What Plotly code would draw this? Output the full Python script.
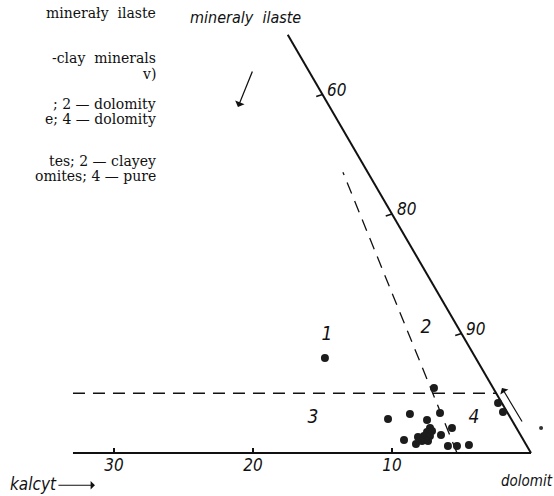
import plotly.graph_objects as go

# ---------------- data (calcite %, clay %) ; dolomite = 100 - calcite - clay
sample_calcite = [10.85, 4.26, 8.86, 7.08, 4.87, 6.10, 8.59, 7.90, 7.46, 5.72, 4.64,
                  5.68, 5.03, 4.13, 0.28, 0.30, 6.22, 6.60, 6.99, 6.56, 7.34, 6.91, 6.20]
sample_clay = [7.95, 5.44, 2.85, 3.26, 3.35, 2.76, 1.09, 0.75, 1.34, 1.51, 2.09,
               0.59, 0.59, 0.67, 4.18, 3.43, 2.09, 1.76, 1.42, 1.42, 1.00, 1.00, 1.84]

# small stray mark outside the triangle (as printed)
stray_calcite = [-1.77]
stray_clay = [2.09]

# triangle edges shown in the fragment
bottom_edge_calcite = [32.95, 0]
bottom_edge_clay = [0, 0]
right_edge_calcite = [0, 0]
right_edge_clay = [0, 35]

# classification boundaries (dashed)
hline_calcite = [30.45, 0]
hline_clay = [5, 5]
slant_calcite = [5.32, 1.78]
slant_clay = [0, 23.5]

# axis ticks
calcite_ticks = [10, 20, 30]
dolomite_ticks = [90, 80, 70]
dolomite_ticktext = ["90", "80", "60"]

# field numbers
field_labels = ["1", "2", "3", "4"]
field_calcite = [9.74, 2.32, 14.22, 2.64]
field_clay = [9.87, 10.46, 2.93, 2.93]


def xe(calc, clay):
    return [c + a / 2 for c, a in zip(calc, clay)]


W, H = 554, 496
XR = [38.20, -1.655]
YR = [-3.598, 37.91]

fig = go.Figure()
black = "#111111"
narrow = "Liberation Sans Narrow, DejaVu Sans Condensed, Roboto Condensed, DejaVu Sans"

fig.add_trace(go.Scatter(x=xe(bottom_edge_calcite, bottom_edge_clay), y=bottom_edge_clay,
                         mode="lines", line=dict(color=black, width=2), hoverinfo="skip"))
fig.add_trace(go.Scatter(x=xe(right_edge_calcite, right_edge_clay), y=right_edge_clay,
                         mode="lines", line=dict(color=black, width=2), hoverinfo="skip"))
fig.add_trace(go.Scatter(x=xe(hline_calcite, hline_clay), y=hline_clay,
                         mode="lines", line=dict(color=black, width=1.3, dash="12px,8px"),
                         hoverinfo="skip"))
fig.add_trace(go.Scatter(x=xe(slant_calcite, slant_clay), y=slant_clay,
                         mode="lines", line=dict(color=black, width=1.3, dash="12px,8px"),
                         hoverinfo="skip"))

# right edge tick marks
tx, ty = [], []
for d in dolomite_ticks:
    a = 100 - d
    x0 = a / 2
    tx += [x0, x0 + 0.45, None]
    ty += [a, a - 0.17, None]
fig.add_trace(go.Scatter(x=tx, y=ty, mode="lines", line=dict(color=black, width=1.5),
                         hoverinfo="skip"))

fig.add_trace(go.Scatter(x=xe(sample_calcite, sample_clay), y=sample_clay, mode="markers",
                         marker=dict(size=8, color="#1c1c1c"), hoverinfo="skip"))
fig.add_trace(go.Scatter(x=xe(stray_calcite, stray_clay), y=stray_clay, mode="markers",
                         marker=dict(size=4, color="#333333"), hoverinfo="skip"))

fig.add_trace(go.Scatter(x=xe(field_calcite, field_clay), y=field_clay, mode="text",
                         text=field_labels,
                         textfont=dict(family=narrow, size=19, style="italic", color=black),
                         hoverinfo="skip"))

ital = dict(family=narrow, style="italic", color=black)
ann = []
for d, t in zip(dolomite_ticks, dolomite_ticktext):
    a = 100 - d
    ann.append(dict(x=a / 2, y=a, xref="x", yref="y", text=t, showarrow=False,
                    xanchor="left", yanchor="middle", xshift=3, yshift=5,
                    font=dict(size=17, **ital)))

serif = dict(family="DejaVu Serif, Liberation Serif", size=14, color=black)
text_lines = [("minerały  ilaste", 13), ("-clay  minerals", 58), ("v)", 74),
              ("; 2 — dolomity", 104), ("e; 4 — dolomity", 119),
              ("tes; 2 — clayey", 161), ("omites; 4 — pure", 176)]
for t, py in text_lines:
    ann.append(dict(x=158 / W, y=1 - py / H, xref="paper", yref="paper", text=t,
                    showarrow=False, xanchor="right", yanchor="middle", font=serif))

ann.append(dict(x=188 / W, y=1 - 18 / H, xref="paper", yref="paper", text="mineraly  ilaste",
                showarrow=False, xanchor="left", yanchor="middle", font=dict(size=16, **ital)))
ann.append(dict(x=8 / W, y=1 - 484 / H, xref="paper", yref="paper", text="kalcyt",
                showarrow=False, xanchor="left", yanchor="middle", font=dict(size=17, **ital)))
ann.append(dict(x=499 / W, y=1 - 481 / H, xref="paper", yref="paper", text="dolomit",
                showarrow=False, xanchor="left", yanchor="middle", font=dict(size=15, **ital)))

# arrows
ann.append(dict(x=21.08, y=28.95, xref="x", yref="y", ax=15, ay=-37, text="",
                showarrow=True, arrowhead=1, arrowsize=1.3, arrowwidth=1.3, arrowcolor=black))
ann.append(dict(x=2.09, y=5.44, xref="x", yref="y", ax=21, ay=35, text="",
                showarrow=True, arrowhead=1, arrowsize=1.3, arrowwidth=1.2, arrowcolor=black))
ann.append(dict(x=31.37, y=-2.7, xref="x", yref="y", ax=-38, ay=0, text="",
                showarrow=True, arrowhead=1, arrowsize=1.2, arrowwidth=1.2, arrowcolor=black))

fig.update_layout(
    width=W, height=H, autosize=False,
    margin=dict(l=0, r=0, t=0, b=0),
    paper_bgcolor="white", plot_bgcolor="white",
    showlegend=False,
    hovermode=False,
    annotations=ann,
    xaxis=dict(range=XR, showgrid=False, zeroline=False, showline=False,
               anchor="free", position=(0 - YR[0]) / (YR[1] - YR[0]),
               tickmode="array", tickvals=calcite_ticks, ticks="inside", ticklen=5,
               tickwidth=1.5, tickcolor=black,
               tickfont=dict(size=17, **ital)),
    yaxis=dict(range=YR, visible=False, showgrid=False, zeroline=False),
)

fig.write_html("out.html", config={"displayModeBar": False},
               post_script="document.body.style.margin='0';document.body.style.overflow='hidden';")
